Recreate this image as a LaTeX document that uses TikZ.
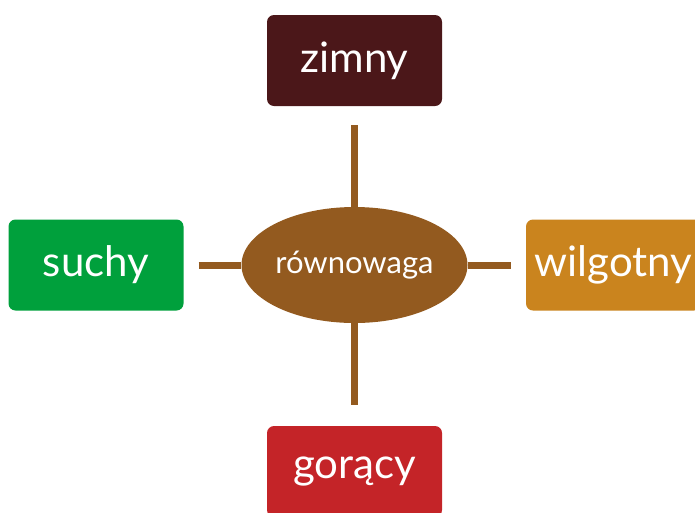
\documentclass[tikz,border=0pt]{standalone}
\usepackage{fontspec}
\setmainfont{Lato}
\usetikzlibrary{shapes.geometric}
\definecolor{cmaroon}{HTML}{4B1719}
\definecolor{cgreen}{HTML}{00A03C}
\definecolor{corange}{HTML}{CA841E}
\definecolor{cred}{HTML}{C42428}
\definecolor{cbrown}{HTML}{935A1F}
\tikzset{
  box/.style={rectangle, rounded corners=7pt, minimum width=175pt, minimum height=91pt, inner sep=0pt, text=white, font=\fontsize{42}{50}\selectfont},
  center/.style={ellipse, fill=cbrown, minimum width=226pt, minimum height=116pt, inner sep=0pt, text=white, font=\fontsize{31}{37}\selectfont},
  link/.style={draw=cbrown, line width=7pt}
}
\begin{document}
\begin{tikzpicture}[x=1pt,y=-1pt]
\useasboundingbox (0,0) rectangle (695,512);
\clip (0,0) rectangle (695,512);
\node[center] (c) at (354.5,265) {równowaga};
\node[box, fill=cmaroon] (t) at (354.5,60.5) {zimny};
\node[box, fill=cgreen] (l) at (96,265) {suchy};
\node[box, fill=corange] (r) at (613.5,265) {wilgotny};
\node[box, fill=cred] (b) at (354.5,471.5) {gorący};
\draw[link, shorten <=19pt] (t) -- (c);
\draw[link, shorten >=21pt] (c) -- (b);
\draw[link, shorten <=15pt] (l) -- (c);
\draw[link, shorten >=15pt] (c) -- (r);
\end{tikzpicture}
\end{document}
